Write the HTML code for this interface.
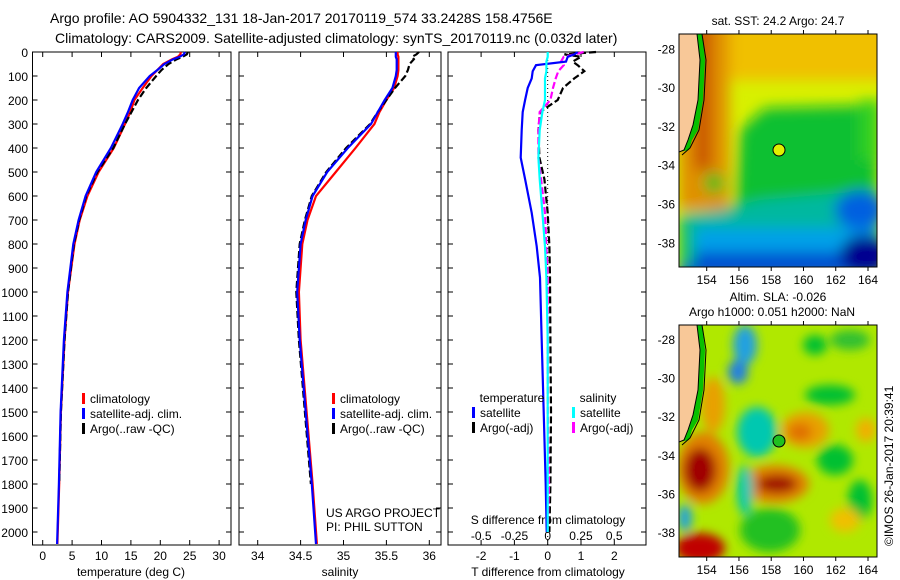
<!DOCTYPE html>
<html><head><meta charset="utf-8"><style>
body{margin:0;background:#fff;}
svg{display:block;font-family:"Liberation Sans",sans-serif;}
</style></head><body>
<svg id="c" width="900" height="580" viewBox="0 0 900 580" xmlns="http://www.w3.org/2000/svg">
<defs>
<filter id="bl" x="-20%" y="-20%" width="140%" height="140%"><feGaussianBlur stdDeviation="7"/></filter>
<filter id="bl2" x="-20%" y="-20%" width="140%" height="140%"><feGaussianBlur stdDeviation="5"/></filter>
<clipPath id="m1"><rect x="679" y="34" width="198" height="233"/></clipPath>
<clipPath id="m2"><rect x="679" y="325" width="198" height="232"/></clipPath>
</defs>
<text x="50" y="23" font-size="14">Argo profile: AO 5904332_131 18-Jan-2017 20170119_574 33.2428S 158.4756E</text>
<text x="55" y="43" font-size="14">Climatology: CARS2009. Satellite-adjusted climatology: synTS_20170119.nc (0.032d later)</text>
<g id="g"></g>

<!-- Map 1: SST -->
<g clip-path="url(#m1)">
<rect x="679" y="34" width="198" height="233" fill="#d8f000"/>
<g filter="url(#bl)">
<rect x="679" y="20" width="220" height="60" fill="#f0c000"/>
<rect x="679" y="20" width="50" height="190" fill="#e09000"/>
<rect x="695" y="20" width="16" height="150" fill="#c85000"/>
<polygon points="740,130 765,108 877,105 877,200 850,200 800,215 735,210" fill="#10c030"/>
<polygon points="720,210 760,200 877,190 877,230 820,235 679,230 679,215" fill="#00b8a0"/>
<rect x="679" y="228" width="200" height="50" fill="#00a0e8"/>
<rect x="679" y="252" width="200" height="25" fill="#0050d0"/>
<ellipse cx="860" cy="210" rx="25" ry="20" fill="#0060e0"/>
<ellipse cx="865" cy="255" rx="25" ry="20" fill="#000090"/>
<ellipse cx="714" cy="183" rx="10" ry="10" fill="#20c020"/>
<rect x="860" y="100" width="20" height="60" fill="#30d020"/>
<rect x="679" y="225" width="15" height="40" fill="#10c070"/>
</g>
<polygon points="679,34 702,34 705,60 703,100 698,130 692,140 689,150 679,152" fill="#08c000"/>
<polygon points="679,34 697,34 700,60 698,100 693,125 688,140 684,150 679,152" fill="#f8c898" stroke="#000" stroke-width="1"/>
<polyline points="702,34 706,60 704,100 699,130 690,148 682,155" fill="none" stroke="#000" stroke-width="1"/>
</g>
<rect x="679" y="34" width="198" height="233" fill="none" stroke="#000" stroke-width="1"/>
<circle cx="779" cy="150" r="6" fill="#e0f000" stroke="#000" stroke-width="1"/>
<text x="778" y="25" font-size="12" text-anchor="middle">sat. SST: 24.2 Argo: 24.7</text>
<text x="778" y="301" font-size="12" text-anchor="middle">Altim. SLA: -0.026</text>
<text x="772" y="316" font-size="12" text-anchor="middle">Argo h1000: 0.051 h2000: NaN</text>

<!-- Map 2: SLA -->
<g clip-path="url(#m2)">
<rect x="679" y="325" width="198" height="232" fill="#b0e800"/>
<g filter="url(#bl2)">
<ellipse cx="713" cy="405" rx="12" ry="28" fill="#e8a000"/>
<ellipse cx="745" cy="345" rx="12" ry="20" fill="#20a0e0"/>
<ellipse cx="738" cy="372" rx="10" ry="12" fill="#2080e0"/>
<ellipse cx="757" cy="432" rx="20" ry="25" fill="#00c8b0"/>
<ellipse cx="703" cy="468" rx="26" ry="36" fill="#e08000"/>
<ellipse cx="700" cy="470" rx="16" ry="22" fill="#a00000"/>
<ellipse cx="775" cy="484" rx="34" ry="19" fill="#e08000"/>
<ellipse cx="777" cy="484" rx="20" ry="9" fill="#a01000"/>
<ellipse cx="805" cy="430" rx="24" ry="18" fill="#e8a000"/>
<ellipse cx="800" cy="432" rx="12" ry="9" fill="#e07000"/>
<ellipse cx="700" cy="548" rx="25" ry="15" fill="#c00000"/>
<ellipse cx="745" cy="490" rx="8" ry="25" fill="#00c8b0"/>
<ellipse cx="830" cy="395" rx="25" ry="10" fill="#00c030"/>
<ellipse cx="815" cy="345" rx="12" ry="10" fill="#00c030"/>
<ellipse cx="835" cy="460" rx="18" ry="15" fill="#00c030"/>
<ellipse cx="860" cy="500" rx="12" ry="20" fill="#00c030"/>
<ellipse cx="770" cy="530" rx="30" ry="22" fill="#20c020"/>
<ellipse cx="866" cy="430" rx="10" ry="12" fill="#f0b000"/>
<ellipse cx="685" cy="518" rx="7" ry="14" fill="#20a0e0"/>
<ellipse cx="850" cy="340" rx="20" ry="10" fill="#30c030"/>
<ellipse cx="845" cy="520" rx="15" ry="12" fill="#f0c000"/>
</g>
<polygon points="679,325 702,325 705,350 703,390 698,420 692,430 689,440 679,442" fill="#08c000"/>
<polygon points="679,325 697,325 700,350 698,390 693,415 688,430 684,440 679,442" fill="#f8c898" stroke="#000" stroke-width="1"/>
<polyline points="702,325 706,350 704,390 699,420 690,438 682,445" fill="none" stroke="#000" stroke-width="1"/>
</g>
<rect x="679" y="325" width="198" height="232" fill="none" stroke="#000" stroke-width="1"/>
<circle cx="779" cy="441" r="6" fill="#20c020" stroke="#000" stroke-width="1"/>
<text transform="translate(893,546) rotate(-90)" font-size="12">©IMOS 26-Jan-2017 20:39:41</text>
</svg>
<script>
const depthP = [0,10,20,30,50,75,100,150,200,250,300,400,500,600,700,800,1000,1200,1500,1800,2050];
const tempClim = [23.5,23.4,23,22,20.5,19.5,18.5,17,15.6,14.9,14,12.1,9.5,7.6,6.3,5.4,4.3,3.7,3.1,2.8,2.5];
const tempSat = [24.2,24,23.3,22.2,20.7,19.5,18.2,16.4,15.3,14.5,13.6,11.6,9.1,7.3,6.1,5.2,4.2,3.6,3.05,2.75,2.45];
const tempArgo = [24.7,24.5,23.8,22.8,21.4,20.2,19.3,17.6,16.2,15.1,14.0,12.0,9.3,7.4,6.2,5.3,4.3,3.7,3.1,2.8,2.5];
const salClim = [35.63,35.63,35.64,35.64,35.64,35.64,35.63,35.59,35.5,35.42,35.36,35.14,34.91,34.68,34.58,34.52,34.48,34.5,34.57,34.64,34.69];
const salSat = [35.61,35.61,35.61,35.62,35.62,35.62,35.61,35.57,35.48,35.4,35.32,35.05,34.81,34.64,34.56,34.5,34.46,34.49,34.56,34.63,34.68];
const salArgo = [35.88,35.85,35.8,35.82,35.77,35.75,35.72,35.6,35.5,35.4,35.31,35.03,34.8,34.63,34.55,34.49,34.45,34.48,34.55,34.62,34.66];
const depthD = [0,10,20,40,55,80,110,150,200,250,325,440,530,670,810,940,1200,1500,1800,2000];
const tDiffSat = [0.9,0.8,0.6,0.55,-0.35,-0.45,-0.48,-0.6,-0.68,-0.75,-0.78,-0.81,-0.68,-0.48,-0.33,-0.23,-0.18,-0.12,-0.06,-0.03];
const tDiffArgo = [1.45,0.5,1.0,0.75,0.9,1.1,0.8,0.46,0.3,-0.23,-0.28,-0.25,-0.1,0,0.05,0.07,0.08,0.1,0.08,0.05];
const sDiffSat = [0,0,0,-0.01,-0.01,-0.01,-0.02,-0.02,-0.02,-0.04,-0.06,-0.07,-0.06,-0.04,-0.02,-0.01,0,0,0,0];
const sDiffArgo = [0.27,0.2,0.12,0.1,0.12,0.08,0.06,0.04,0.02,-0.06,-0.07,-0.07,-0.05,-0.02,-0.01,0,0,0,0.01,0];
const depthTicks = [0,100,200,300,400,500,600,700,800,900,1000,1100,1200,1300,1400,1500,1600,1700,1800,1900,2000];
const tempTicks = [0,5,10,15,20,25,30];
const salTicks = ["34","34.5","35","35.5","36"];
const tDiffTicks = ["-2","-1","0","1","2"];
const sDiffTicks = ["-0.5","-0.25","0","0.25","0.5"];
const latTicks = [-28,-30,-32,-34,-36,-38];
const lonTicks = [154,156,158,160,162,164];

const NS="http://www.w3.org/2000/svg";
const g=document.getElementById('g');
function mk(tag,attrs,parent){const e=document.createElementNS(NS,tag);for(const k in attrs)e.setAttribute(k,attrs[k]);(parent||g).appendChild(e);return e;}
const yD=d=>52+d*0.24;
const xT=t=>42.7+t*5.88;
const xS=s=>257.7+(s-34)*85.8;
const xTd=t=>547.7+t*33.3;
const xSd=s=>547.7+s*133;
const TOP=52,BOT=545;
const panels=[[32.5,231],[239,441],[448,646]];
panels.forEach((p,i)=>{
  const r=mk('rect',{x:p[0],y:TOP,width:p[1]-p[0],height:BOT-TOP,fill:'none',stroke:'#000','stroke-width':1});
  
  
  depthTicks.forEach(d=>{
    mk('line',{x1:p[0],x2:p[0]+5,y1:yD(d),y2:yD(d),stroke:'#000'});
    mk('line',{x1:p[1],x2:p[1]-5,y1:yD(d),y2:yD(d),stroke:'#000'});
  });
});
depthTicks.forEach(d=>{
  const t=mk('text',{x:28,y:yD(d)+5,'font-size':12,'text-anchor':'end'});
  t.textContent=d;
  
  
});
function xTicks(vals,fx,labelY,tickTop){
  vals.forEach(v=>{
    const x=fx(+v);
    mk('line',{x1:x,x2:x,y1:BOT,y2:BOT-5,stroke:'#000'});
    if(tickTop) mk('line',{x1:x,x2:x,y1:TOP,y2:TOP+5,stroke:'#000'});
    const t=mk('text',{x:x,y:labelY,'font-size':12,'text-anchor':'middle'});
    t.textContent=v;
    
    
  });
}
xTicks(tempTicks,xT,560,true);
xTicks(salTicks,xS,560,true);
xTicks(tDiffTicks,xTd,560,true);
sDiffTicks.forEach(v=>{
  const t=mk('text',{x:xSd(+v),y:540,'font-size':12,'text-anchor':'middle'});
  t.textContent=v;
  
  
});
function lab(txt,x,y,name){const t=mk('text',{x:x,y:y,'font-size':12,'text-anchor':'middle'});t.textContent=txt;}
lab('temperature (deg C)',131,576,'x-axis-title-temperature');
lab('salinity',340,576,'x-axis-title-salinity');
lab('T difference from climatology',548,576,'x-axis-title-t-diff');
lab('S difference from climatology',548,524,'s-diff-axis-title');
const z=mk('line',{x1:547.7,x2:547.7,y1:TOP,y2:BOT,stroke:'#000','stroke-dasharray':'1,3'});



function line(xs,ds,fx,color,dash,name,maxD){
  const pts=[];xs.forEach((v,i)=>{if(maxD===undefined||ds[i]<=maxD)pts.push(fx(v).toFixed(1)+','+yD(ds[i]).toFixed(1));});
  const a={points:pts.join(' '),fill:'none',stroke:color,'stroke-width':2.2};
  if(dash)a['stroke-dasharray']=dash;
  const e=mk('polyline',a);
  
  
}
line(tempClim,depthP,xT,'#f00',null,'temp-climatology-line');
line(tempArgo,depthP,xT,'#000','7,3','temp-argo-line',2000);
line(tempSat,depthP,xT,'#00f',null,'temp-satellite-line');
line(salClim,depthP,xS,'#f00',null,'sal-climatology-line');
line(salArgo,depthP,xS,'#000','7,3','sal-argo-line',2000);
line(salSat,depthP,xS,'#00f',null,'sal-satellite-line');
line(tDiffArgo,depthD,xTd,'#000','7,3','tdiff-argo-line');
line(sDiffArgo,depthD,xSd,'#f0f','7,3','sdiff-argo-line');
line(tDiffSat,depthD,xTd,'#00f',null,'tdiff-satellite-line');
line(sDiffSat,depthD,xSd,'#0ff',null,'sdiff-satellite-line');

function leg(x,y,color,txt,name){
  const r=mk('rect',{x:x,y:y-10,width:3,height:11,fill:color});
  
  
  const t=mk('text',{x:x+8,y:y,'font-size':12});
  t.textContent=txt;
  
  
}
[[82],[332]].forEach((p,i)=>{
  leg(p[0],403,'#f00','climatology','legend-climatology-'+(i+1));
  leg(p[0],418,'#00f','satellite-adj. clim.','legend-satellite-'+(i+1));
  leg(p[0],433,'#000','Argo(..raw -QC)','legend-argo-'+(i+1));
});
lab('temperature',512,402,'legend-temperature-heading');
leg(472,417,'#00f','satellite','legend-t-satellite');
leg(472,432,'#000','Argo(-adj)','legend-t-argo');
lab('salinity',598,402,'legend-salinity-heading');
leg(572,417,'#0ff','satellite','legend-s-satellite');
leg(572,432,'#f0f','Argo(-adj)','legend-s-argo');
const u=mk('text',{x:326,y:517,'font-size':12});u.textContent='US ARGO PROJECT';


const u2=mk('text',{x:326,y:531,'font-size':12});u2.textContent='PI: PHIL SUTTON';



// map axes
const lonX=l=>706.7+(l-154)*16.13;
[[48.3,34,267,19.4],[339,325,557,19.3]].forEach((m,i)=>{
  latTicks.forEach(la=>{
    const y=m[0]+(-28-la)*m[3];
    mk('line',{x1:679,x2:683,y1:y,y2:y,stroke:'#000'});
    mk('line',{x1:877,x2:873,y1:y,y2:y,stroke:'#000'});
    const t=mk('text',{x:675,y:y+5,'font-size':12,'text-anchor':'end'});t.textContent=la;
    
    
  });
  lonTicks.forEach(lo=>{
    const x=lonX(lo);
    mk('line',{x1:x,x2:x,y1:m[1],y2:m[1]-4,stroke:'#000'});
    mk('line',{x1:x,x2:x,y1:m[2],y2:m[2]+4,stroke:'#000'});
    const t=mk('text',{x:x,y:m[2]+17,'font-size':12,'text-anchor':'middle'});t.textContent=lo;
    
    
  });
});
</script>
</body></html>
